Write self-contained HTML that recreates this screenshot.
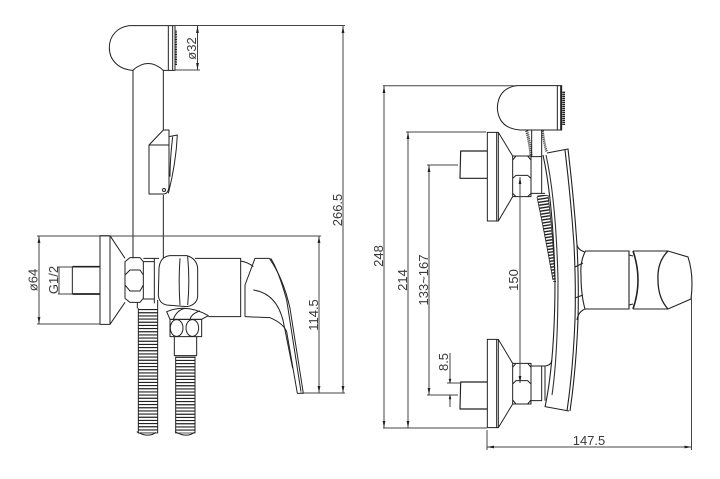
<!DOCTYPE html>
<html><head><meta charset="utf-8"><style>
html,body{margin:0;padding:0;background:#fff}
svg{display:block}
text{font-family:"Liberation Sans",sans-serif;font-size:13px;fill:#3a3a3a;text-anchor:middle}
.z{fill:none;stroke:#222;stroke-width:3;stroke-linejoin:round}
.d{fill:none;stroke:#444;stroke-width:1}
.a{marker-start:url(#m);marker-end:url(#m)}
</style></head><body>
<svg width="720" height="479" viewBox="0 0 720 479" xmlns="http://www.w3.org/2000/svg">
<defs>
<marker id="m" markerUnits="userSpaceOnUse" markerWidth="8" markerHeight="4" refX="7" refY="2" orient="auto-start-reverse"><path d="M0,.6L7,2L0,3.4Z" fill="#222"/></marker>
<clipPath id="w"><polygon points="537,195 548,195 556,282 553,282"/></clipPath>
</defs>
<rect width="720" height="479" fill="#fff"/>

<!-- left upper -->
<g transform="translate(20,10) scale(.33333)" class="z">
<path d="M445,47L330,47C295,50 268,75 268,113C268,150 295,178 338,181Q385,140 430,181L445,181"/>
<path d="M445,47V181H465V47H445M458,47V181"/>
<path d="M468,62V165" stroke-width="6" stroke-dasharray="3 2"/>
<path d="M339,181V745M430,181V360M430,555V745"/>
<path d="M387,405L430,360H447V530Q445,552 430,552H387ZM387,405H447"/>
<path d="M447,380L472,375Q468,460 445,550M458,380Q450,450 450,500"/>
<circle cx="432" cy="540" r="4.5"/>
</g>

<!-- left lower -->
<g transform="translate(20,225) scale(.33333)" class="z">
<path d="M240,32H270V298H240ZM270,32L315,100M270,298L315,232"/>
<path d="M157,125H240M157,207H240" stroke-width="5"/>
<path d="M157,125V207"/>
<path d="M315,110L330,98H360L370,110V220L360,232H330L315,220ZM315,150L330,135H360L370,150M315,180L330,198H360L370,180" stroke-width="3"/>
<path d="M370,110H403V222H370M403,100V235M370,100H417M352,232V250M413,225V250"/>
<path d="M417,130Q420,95 450,92H500Q530,100 533,130V215Q530,240 500,245L440,240Q417,235 415,210Z"/>
<path d="M480,100Q475,170 480,240M503,94Q510,170 503,240"/>
<path d="M525,100H662V275H565M662,108Q685,112 700,125M675,275V180L705,100H748"/>
<path d="M748,100Q790,160 810,250L850,505H832L800,320Q790,295 750,278L675,275"/>
<path d="M752,100Q775,135 800,225L843,500M700,195Q770,205 790,290L818,430"/>
<path d="M440,260Q500,235 565,272L545,283H450ZM460,283Q470,255 495,250M510,283Q515,265 540,258"/>
<path d="M450,283H545V335H450Z"/>
<ellipse cx="470" cy="309" rx="19" ry="25"/><ellipse cx="517" cy="309" rx="19" ry="25"/>
<path d="M463,335V392H530V335"/>
<path d="M384,252V625" stroke-width="58" stroke-dasharray="3.5 6" fill="none"/>
<path d="M496,395V625" stroke-width="58" stroke-dasharray="3.5 6" fill="none"/>
<path d="M355,250V625M413,250V625M467,395V625M525,395V625M350,620Q385,640 408,622M465,620Q500,640 523,622" stroke-width="3"/>
</g>

<!-- right view -->
<g transform="translate(370,70) scale(.33333)" class="z">
<path d="M575,47H440Q385,55 382,113Q385,175 450,180H575ZM562,47V180M572,47V180"/>
<path d="M581,65V165" stroke-width="8" stroke-dasharray="4 2"/>
<path d="M352,187H385V453H352ZM380,187V453M385,187L428,258M385,453L428,380"/>
<path d="M352,243H272L270,325H352" stroke-width="3.5"/>
<path d="M428,258H483V380H428ZM428,270L438,258M473,258L483,270M428,325L438,316H473L483,325M428,370L438,380M473,380L483,370"/>
<path d="M483,260H515V370H483M515,250V370H525M485,180V260M515,180V250"/>
<path d="M470,182Q480,220 483,258" stroke-width="9" stroke-dasharray="3 3"/>
<path d="M518,182Q522,220 530,245" stroke-width="7" stroke-dasharray="3 3"/>
</g>
<g transform="translate(370,260) scale(.33333)" class="z">
<path d="M352,238H385V503H352ZM380,238V503M385,238L428,310M385,503L428,432"/>
<path d="M352,366H272L270,447H352" stroke-width="3.5"/>
<path d="M428,310H483V432H428ZM428,322L438,310H473L483,322M428,372L438,362H473L483,372M428,420L438,432H473L483,420"/>
<path d="M483,318H515V422H483M515,318H525V422M525,318Q545,315 545,300M525,440L597,453"/>
</g>
<g fill="none" stroke="#222" stroke-width="1.1">
<path d="M547,153L568,149Q574,200 577,245Q579,285 578,320Q576,370 570,411"/>
<path d="M565,150Q571,200 574,245Q576,285 575,320Q573,370 567,411"/>
<path d="M543,155Q553,200 555,280Q555,360 545,407"/>
<path d="M546,155Q556,200 558,280Q558,355 552,395" stroke="#333"/>
<path d="M577,245Q578,250 585,252Q580,262 581,275Q581,295 585,309Q578,312 577,320M575,267L583,263M575,298L583,295"/>
<path d="M585,251H629V309H585"/>
<path d="M633,251H668L688,257Q694,275 691,299L668,309H633"/>
<path d="M633,251Q643,280 633,309" stroke-width="1.6"/>
<path d="M668,251Q657,262 658,280Q658,298 668,309" stroke-width="1.3"/>
<path d="M629,255L633,256M629,305L633,304"/>
<g clip-path="url(#w)"><path d="M542,192L556,284" stroke-width="14" stroke-dasharray="1.4 1.6"/></g>
<path d="M537,197Q546,240 553,280M548,195Q553,235 555,280" stroke-width=".8"/>
</g>

<!-- dimensions left -->
<path class="d" d="M175,25.5H345M175,70H200M37,236H321M37,324H100M300,393H345M58,267H72M58,294H72"/>
<line class="d a" x1="197.5" y1="26" x2="197.5" y2="70"/>
<line class="d a" x1="343" y1="26" x2="343" y2="393"/>
<line class="d a" x1="39" y1="236" x2="39" y2="324"/>
<line class="d a" x1="319" y1="236" x2="319" y2="393"/>
<line class="d" x1="59" y1="267" x2="59" y2="294"/>

<!-- dimensions right -->
<path class="d" d="M383,85.7H517M383,428H487M406,132H486M427,165H458M427,395H458M447,383H461M447,395H458M487,430V450M691.5,295V450"/>
<line class="d a" x1="384" y1="86" x2="384" y2="428"/>
<line class="d a" x1="408" y1="132" x2="408" y2="428"/>
<line class="d a" x1="429" y1="165" x2="429" y2="395"/>
<line class="d a" x1="520" y1="177" x2="520" y2="383"/>
<path class="d" d="M450,353V383M450,395V407"/>
<path d="M449,379L450,383L451,379ZM449,399L450,395L451,399Z" fill="#222" stroke="#222" stroke-width=".5"/>
<line class="d a" x1="487" y1="447" x2="691.5" y2="447"/>

<!-- labels -->
<text transform="translate(196,48.5) rotate(-90)">ø32</text>
<text transform="translate(342,210) rotate(-90)">266.5</text>
<text transform="translate(37.5,280) rotate(-90)">ø64</text>
<text transform="translate(58,280) rotate(-90)">G1/2</text>
<text transform="translate(318,315) rotate(-90)">114.5</text>
<text transform="translate(383,256) rotate(-90)">248</text>
<text transform="translate(407,280) rotate(-90)">214</text>
<text transform="translate(428,280) rotate(-90)">133~167</text>
<text transform="translate(518,280) rotate(-90)">150</text>
<text transform="translate(448,362) rotate(-90)">8.5</text>
<text x="589" y="445">147.5</text>
</svg>
</body></html>
